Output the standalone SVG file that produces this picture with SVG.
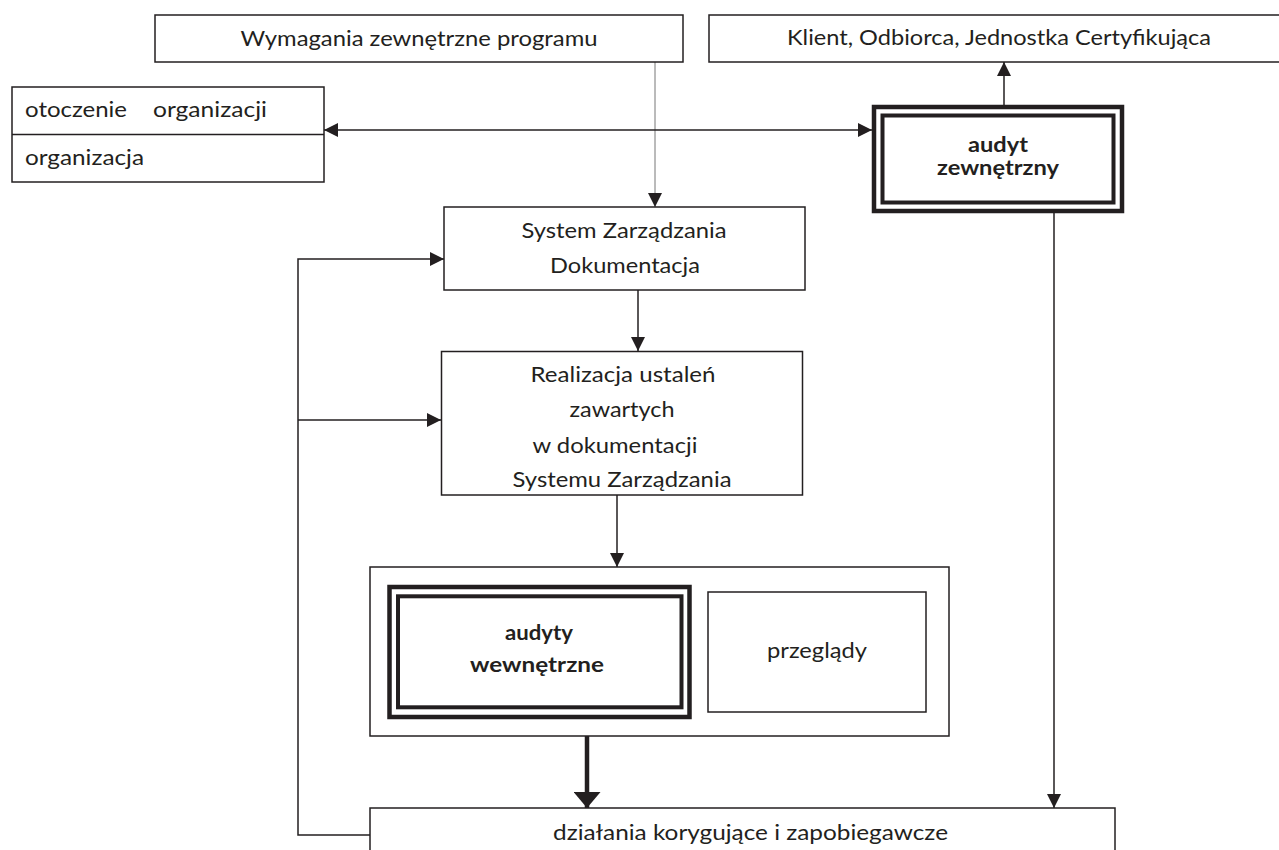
<svg xmlns="http://www.w3.org/2000/svg" width="1279" height="850" viewBox="0 0 1279 850">
<style>
  .box{fill:#fff;stroke:#231f20;stroke-width:1.5}
  .dbl{fill:#fff;stroke:#231f20;stroke-width:4.5}
  .dbi{fill:#fff;stroke:#231f20;stroke-width:4}
  .t{font-family:Lato,"Open Sans","Liberation Sans",sans-serif;font-size:21px;fill:#231f20}
  .b{font-family:Lato,"Open Sans","Liberation Sans",sans-serif;font-size:21px;font-weight:bold;fill:#231f20}
  .c{text-anchor:middle}
  .ln{fill:none;stroke:#231f20;stroke-width:1.5}
</style>
<defs>
  <marker id="ah" markerWidth="14" markerHeight="14" refX="14" refY="7" orient="auto-start-reverse" markerUnits="userSpaceOnUse">
    <path d="M0,0 L14,7 L0,14 z" fill="#231f20"/>
  </marker>
  <marker id="ahb" markerWidth="16" markerHeight="27" refX="16" refY="13.5" orient="auto" markerUnits="userSpaceOnUse">
    <path d="M0,0 L16,13.5 L0,27 z" fill="#231f20"/>
  </marker>
</defs>
<rect width="1279" height="850" fill="#fff"/>

<g id="connectors">
  <path d="M655,62 V207" fill="none" stroke="#777" stroke-width="1" marker-end="url(#ah)"/>
  <path class="ln" d="M1004,105 V62" marker-end="url(#ah)"/>
  <path class="ln" d="M324,130 H872" marker-start="url(#ah)" marker-end="url(#ah)"/>
  <path class="ln" d="M1054,213 V808" marker-end="url(#ah)"/>
  <path class="ln" d="M638,290 V351" marker-end="url(#ah)"/>
  <path class="ln" d="M617,495 V567" marker-end="url(#ah)"/>
  <path d="M587,736 V808" fill="none" stroke="#231f20" stroke-width="4.5" marker-end="url(#ahb)"/>
  <path class="ln" d="M370,835 H298 V259 H444" marker-end="url(#ah)"/>
  <path class="ln" d="M298,420 H441" marker-end="url(#ah)"/>
</g>

<g id="wymagania">
  <rect class="box" x="155" y="15" width="528" height="47"/>
  <text class="t c" x="419" y="46" textLength="357" lengthAdjust="spacingAndGlyphs">Wymagania zewnętrzne programu</text>
</g>

<g id="klient">
  <rect class="box" x="709" y="15" width="590" height="47"/>
  <text class="t" x="787" y="45" textLength="424" lengthAdjust="spacingAndGlyphs">Klient, Odbiorca, Jednostka Certyfikująca</text>
</g>

<g id="otoczenie">
  <rect class="box" x="12" y="87" width="312" height="95"/>
  <line x1="12" y1="134.5" x2="324" y2="134.5" stroke="#231f20" stroke-width="1.5"/>
  <text class="t" y="117"><tspan x="25" textLength="102" lengthAdjust="spacingAndGlyphs">otoczenie</tspan><tspan x="153" textLength="114" lengthAdjust="spacingAndGlyphs">organizacji</tspan></text>
  <text class="t" x="25" y="165" textLength="119" lengthAdjust="spacingAndGlyphs">organizacja</text>
</g>

<g id="audyt-zewnetrzny">
  <rect class="dbl" x="874" y="107" width="248" height="104"/>
  <rect class="dbi" x="882.5" y="115.5" width="231" height="87"/>
  <text class="b c" x="998" y="152" textLength="60" lengthAdjust="spacingAndGlyphs">audyt</text>
  <text class="b c" x="998" y="175" textLength="122" lengthAdjust="spacingAndGlyphs">zewnętrzny</text>
</g>

<g id="system">
  <rect class="box" x="444" y="207" width="361" height="83"/>
  <text class="t c" x="624" y="238" textLength="205" lengthAdjust="spacingAndGlyphs">System Zarządzania</text>
  <text class="t c" x="625" y="273" textLength="150" lengthAdjust="spacingAndGlyphs">Dokumentacja</text>
</g>

<g id="realizacja">
  <rect class="box" x="441.5" y="351.5" width="361" height="143.5"/>
  <text class="t c" x="623" y="382" textLength="185" lengthAdjust="spacingAndGlyphs">Realizacja ustaleń</text>
  <text class="t c" x="622" y="417" textLength="105" lengthAdjust="spacingAndGlyphs">zawartych</text>
  <text class="t c" x="615" y="453" textLength="165" lengthAdjust="spacingAndGlyphs">w dokumentacji</text>
  <text class="t c" x="622" y="487" textLength="219" lengthAdjust="spacingAndGlyphs">Systemu Zarządzania</text>
</g>

<g id="kontrola">
  <rect class="box" x="370" y="567" width="579" height="169"/>
</g>

<g id="audyty-wewnetrzne">
  <rect class="dbl" x="389.5" y="587" width="300" height="130"/>
  <rect class="dbi" x="398" y="596.3" width="283.5" height="111"/>
  <text class="b c" x="539" y="640" textLength="68" lengthAdjust="spacingAndGlyphs">audyty</text>
  <text class="b c" x="537" y="672" textLength="134" lengthAdjust="spacingAndGlyphs">wewnętrzne</text>
</g>

<g id="przeglady">
  <rect class="box" x="708" y="592" width="218" height="120"/>
  <text class="t c" x="817" y="658" textLength="100" lengthAdjust="spacingAndGlyphs">przeglądy</text>
</g>

<g id="dzialania">
  <rect class="box" x="370" y="808" width="745" height="80"/>
  <text class="t" x="553" y="840" textLength="395" lengthAdjust="spacingAndGlyphs">działania korygujące i zapobiegawcze</text>
</g>
</svg>
